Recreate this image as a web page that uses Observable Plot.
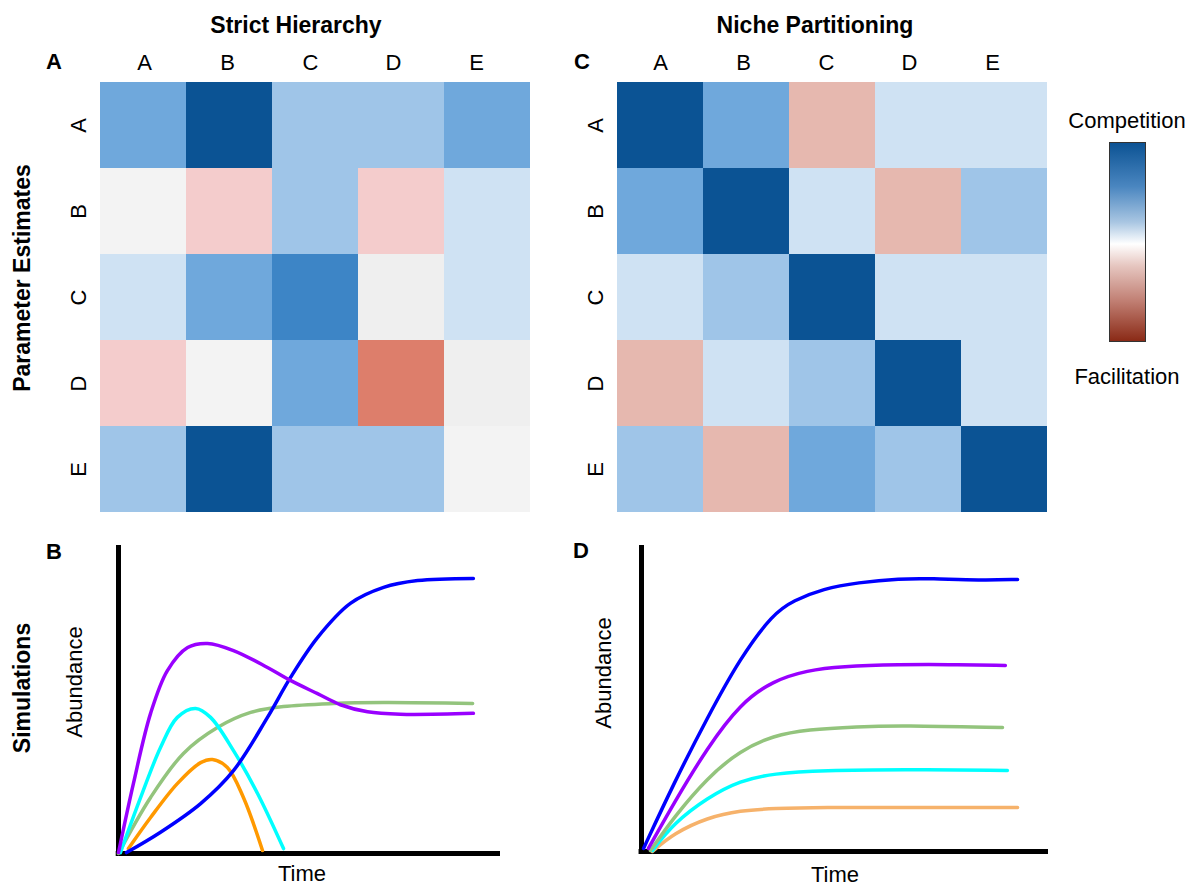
<!DOCTYPE html>
<html>
<head>
<meta charset="utf-8">
<script src="https://cdn.jsdelivr.net/npm/d3@7"></script>
<script src="https://cdn.jsdelivr.net/npm/@observablehq/plot@0.6"></script>
<style>
  html, body { margin: 0; padding: 0; background: #fff; }
  #root { position: relative; width: 1192px; height: 886px; overflow: hidden;
          font-family: "Liberation Sans", Arial, sans-serif; color: #000; }
  .abs { position: absolute; }
  .lbl { position: absolute; transform: translate(-50%, -50%); white-space: nowrap;
         font-size: 22px; line-height: 1; }
  .rot { transform: translate(-50%, -50%) rotate(-90deg); }
  .b { font-weight: bold; font-size: 23px; }
  .pl { font-weight: bold; font-size: 22px; }
  #colorbar { position: absolute; left: 1109px; top: 142px; width: 37px; height: 200px;
              box-sizing: border-box; border: 1px solid #333;
              background: linear-gradient(to bottom, #0c5394 0%, #4a86c0 22%, #a9c6e2 40%, #ffffff 51%, #e6c6c0 62%, #c07e72 80%, #8a2a16 100%); }
  svg { overflow: visible; }
</style>
</head>
<body>
<div id="root"></div>
<script>
// ---------- Data ----------
const species = ["A", "B", "C", "D", "E"];

// Parameter estimates (rows = species, columns = species); positive = competition, negative = facilitation
const hierRowA = [3, 5, 2, 2, 3];
const hierRowB = [0, -1, 2, -1, 1];
const hierRowC = [1, 3, 4, -0.1, 1];
const hierRowD = [-1, 0, 3, -3, -0.1];
const hierRowE = [2, 5, 2, 2, 0];

const nicheRowA = [5, 3, -1.5, 1, 1];
const nicheRowB = [3, 5, 1, -1.5, 2];
const nicheRowC = [1, 2, 5, 1, 1];
const nicheRowD = [-1.5, 1, 2, 5, 1];
const nicheRowE = [2, -1.5, 3, 2, 5];

const estimateLevels = [-3, -1.5, -1, -0.1, 0, 1, 2, 3, 4, 5];

// Simulations: [time, abundance]
const hierBlue   = [[2.1,0.3],[11,6.9],[21.5,16.2],[30.1,26.9],[39,44.2],[45,57.1],[52.1,70.1],[60.7,81.2],[69.4,86.4],[78.3,88.6],[92.9,89.3]];
const hierPurple = [[0,0.3],[3.9,22.7],[8.4,45.5],[12.8,59.4],[18.1,66.9],[23.3,68.2],[30.1,65.9],[39,60.4],[45,56.2],[52.1,51.9],[58.1,48.3],[65.2,46],[73.8,45.2],[92.9,45.5]];
const hierCyan   = [[0.5,0.3],[5.8,18.2],[11,34.4],[15.4,44.2],[20.2,47.1],[24.1,44.2],[30.1,33.4],[36.4,19.5],[43.2,1.6]];
const hierGreen  = [[0,0],[8.4,18.2],[17,32.5],[25.9,40.9],[34.6,45.8],[43.2,47.7],[56.3,48.7],[69.4,49],[92.7,48.7]];
const hierOrange = [[2.6,1.6],[8.4,11.7],[15.4,22.7],[21.5,29.5],[24.6,30.5],[28.5,27.9],[32.7,18.2],[37.7,1]];

const nicheBlue   = [[0.5,1],[7.9,22.2],[16.2,43.8],[24.3,63.4],[32.4,77.8],[37.3,82],[44.7,85.9],[53.1,87.9],[63.6,89.2],[71,89.2],[83.3,88.6],[92.4,88.9]];
const nichePurple = [[1.7,1],[7.9,15.7],[16.2,34],[24.3,48.4],[32.4,55.9],[40.8,59.2],[48.9,60.5],[63.6,61.1],[75.2,61.1],[89.4,60.8]];
const nicheGreen  = [[2.2,0.3],[7.9,11.1],[16.2,24.2],[24.3,33],[32.4,37.9],[40.8,39.9],[53.1,40.8],[63.6,41.2],[88.7,40.5]];
const nicheCyan   = [[2.7,0.3],[7.9,9.2],[16.2,17.6],[24.3,23.2],[32.4,25.5],[44.7,26.5],[63.6,26.8],[89.9,26.5]];
const nicheOrange = [[2.7,0],[7.9,5.9],[16.2,11.1],[24.3,13.4],[32.4,14.1],[44.7,14.4],[63.6,14.4],[92.4,14.4]];

// ---------- Helpers ----------
const root = document.getElementById("root");
const FONT = "Liberation Sans, Arial, sans-serif";

function matrixTable(rows) {
  const out = [];
  rows.forEach((vals, i) => vals.forEach((v, j) => out.push({row: species[i], col: species[j], value: v})));
  return out;
}

function place(node, left, top) {
  node.classList.add("abs");
  node.style.left = left + "px";
  node.style.top = top + "px";
  root.appendChild(node);
}

function label(text, cx, cy, cls = "") {
  const d = document.createElement("div");
  d.className = "lbl " + cls;
  d.textContent = text;
  d.style.left = cx + "px";
  d.style.top = cy + "px";
  root.appendChild(d);
}

function heatmap(rows, colors, left, top, marginLeft, width, labelFirst) {
  const p = Plot.plot({
    width, height: 478,
    marginLeft, marginRight: width - marginLeft - 433, marginTop: 41, marginBottom: 5,
    style: {fontFamily: FONT, background: "transparent"},
    x: {domain: species, padding: 0, axis: null},
    y: {domain: species, padding: 0, axis: null},
    color: {type: "ordinal", domain: estimateLevels, range: colors},
    marks: [
      Plot.cell(matrixTable(rows), {x: "col", y: "row", fill: "value", inset: 0, shapeRendering: "crispEdges"}),
      Plot.text(species, {y: d => d, frameAnchor: "left", dx: -20, rotate: -90, fontSize: 22, fill: "#000", lineAnchor: "middle", textAnchor: "middle"})
    ]
  });
  place(p, left, top);
  // column header row (point scale: first and last label at the frame edges)
  const h = Plot.plot({
    width, height: 40,
    marginLeft: labelFirst, marginRight: width - labelFirst - 335, marginTop: 0, marginBottom: 0,
    style: {fontFamily: FONT, background: "transparent"},
    x: {type: "point", domain: species, padding: 0, axis: null},
    marks: [
      Plot.text(species, {x: d => d, frameAnchor: "middle", fontSize: 22, fill: "#000", lineAnchor: "middle"})
    ]
  });
  place(h, left, top + 2);
}

const heatColors = ["#dd7e6b", "#e6b8af", "#f4cccc", "#efefef", "#f3f3f3", "#cfe2f3", "#9fc5e8", "#6fa8dc", "#3d85c6", "#0b5394"];

heatmap([hierRowA, hierRowB, hierRowC, hierRowD, hierRowE], heatColors, 0, 40, 98, 541, 142);
heatmap([nicheRowA, nicheRowB, nicheRowC, nicheRowD, nicheRowE], heatColors, 560, 40, 55, 500, 98);

function sims(series, left, width, marginLeft, marginRight, marginBottom, curve) {
  const data = [];
  series.forEach(s => s.pts.forEach(([t, a]) => data.push({species: s.name, color: s.color, t, a})));
  const p = Plot.plot({
    width, height: 356,
    marginLeft, marginRight, marginTop: 15, marginBottom,
    style: {fontFamily: FONT, background: "transparent"},
    x: {domain: [0, 100], axis: null},
    y: {domain: [0, 100], axis: null},
    marks: [
      Plot.ruleX([0], {stroke: "#000", strokeWidth: 5}),
      Plot.ruleY([0], {stroke: "#000", strokeWidth: 5, x1: -0.6, x2: 100}),
      ...series.map(s => Plot.line(data.filter(d => d.species === s.name),
        {x: "t", y: "a", stroke: s.color, strokeWidth: 3.5, curve}))
    ]
  });
  place(p, left, 530);
}

sims([
  {name: "green", color: "#93c47d", pts: hierGreen},
  {name: "orange", color: "#ff9900", pts: hierOrange},
  {name: "cyan", color: "#00ffff", pts: hierCyan},
  {name: "blue", color: "#0000ff", pts: hierBlue},
  {name: "purple", color: "#9900ff", pts: hierPurple}
], 0, 520, 118, 20, 33, "catmull-rom");

sims([
  {name: "orange", color: "#f6b26b", pts: nicheOrange},
  {name: "cyan", color: "#00ffff", pts: nicheCyan},
  {name: "green", color: "#93c47d", pts: nicheGreen},
  {name: "purple", color: "#9900ff", pts: nichePurple},
  {name: "blue", color: "#0000ff", pts: nicheBlue}
], 560, 500, 81, 12, 35, "basis");

// ---------- Colour bar ----------
const cb = document.createElement("div");
cb.id = "colorbar";
root.appendChild(cb);

// ---------- Text ----------
label("Strict Hierarchy", 296, 25, "b");
label("Niche Partitioning", 815, 25, "b");
label("A", 54, 62, "pl");
label("C", 582, 62, "pl");
label("B", 54, 552, "pl");
label("D", 581, 551, "pl");
label("Parameter Estimates", 22, 278, "b rot");
label("Simulations", 22, 688, "b rot");
label("Competition", 1127, 121);
label("Facilitation", 1127, 377);
label("Abundance", 75, 682, "rot");
label("Abundance", 604, 673, "rot");
label("Time", 302, 874);
label("Time", 835, 875);
</script>
</body>
</html>
